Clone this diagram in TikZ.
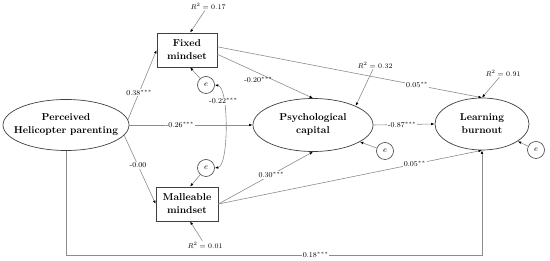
\documentclass[tikz,border=0pt]{standalone}
\usetikzlibrary{shapes.geometric, arrows.meta}
\begin{document}
\begin{tikzpicture}
[
    x=1pt, y=-1pt,
    latent/.style={draw=black!75, line width=0.7pt, ellipse, inner sep=0pt, align=center, font=\bfseries\fontsize{10}{13}\selectfont},
    observed/.style={draw=black!75, line width=0.7pt, rectangle, minimum width=60pt, minimum height=34pt, inner sep=0pt, align=center, font=\bfseries\fontsize{10}{13}\selectfont},
    resid/.style={draw=black!75, line width=0.6pt, circle, minimum size=17pt, inner sep=0pt, font=\footnotesize},
    link/.style={draw=black!45, line width=0.6pt, -{Latex[black, length=3.5pt, width=2.6pt]}},
    twoway/.style={link, {Latex[black, length=3.5pt, width=2.6pt]}-{Latex[black, length=3.5pt, width=2.6pt]}},
    coef/.style={fill=white, inner sep=1pt, font=\fontsize{7.5}{9}\selectfont},
    rsq/.style={inner sep=1pt, font=\fontsize{7.5}{9}\selectfont}
]
    \useasboundingbox (0,0) rectangle (550,261);

    % constructs
    \node [latent, minimum width=126pt, minimum height=51pt, inner xsep=-12pt] (hp) at (66,125) {Perceived\\Helicopter parenting};
    \node [observed] (fm) at (187,50) {Fixed\\mindset};
    \node [observed, minimum width=62pt] (mm) at (187,204) {Malleable\\mindset};
    \node [latent, minimum width=120pt, minimum height=53pt] (pc) at (313,125) {Psychological\\capital};
    \node [latent, minimum width=94pt, minimum height=52pt] (lb) at (482,124) {Learning\\burnout};

    % residuals
    \node [resid] (e1) at (206,85) {$e$};
    \node [resid] (e2) at (206,168) {$e$};
    \node [resid] (e3) at (385,151) {$e$};
    \node [resid] (e4) at (536,150) {$e$};

    % explained variance
    \node [rsq] (r1) at (208,6) {$R^2 = 0.17$};
    \node [rsq] (r2) at (375,65) {$R^2 = 0.32$};
    \node [rsq] (r3) at (503,73) {$R^2 = 0.91$};
    \node [rsq] (r4) at (205,245) {$R^2 = 0.01$};
    \coordinate (base) at (0,255);

    % paths
    \draw [link] (hp.5) -- node [coef, pos=0.39] {0.38$^{***}$} (fm.west);
    \draw [link] (hp.-10) -- node [coef, pos=0.44] {-0.00} (mm.west);
    \draw [link] (hp.east) -- node [coef, pos=0.41] {-0.26$^{***}$} (pc.west);
    \draw [link] (fm.-8) -- node [rsq, pos=0.43, below=3pt] {-0.20$^{***}$} (pc.north);
    \draw [link] (fm.6) -- node [coef, pos=0.755] {0.05$^{**}$} (lb.north);
    \draw [link] (mm.east) -- node [coef, pos=0.56] {0.30$^{***}$} (pc.south);
    \draw [link] (mm.east) -- node [coef, pos=0.745] {0.05$^{**}$} (lb.south);
    \draw [link] (pc.east) -- node [coef, pos=0.47] {-0.87$^{***}$} (lb.west);
    \draw [link] (hp.south) |- node [coef, pos=0.8] {0.18$^{***}$} (lb.south |- base) -- (lb.south);

    % residual and variance arrows
    \draw [link] (e1) -- (fm.-80);
    \draw [link] (e2) -- (mm.80);
    \draw [link] (e3) -- (pc);
    \draw [link] (e4) -- (lb);
    \draw [link] (r1) -- (fm.80);
    \draw [link] (r2) -- (pc.24);
    \draw [link] (r3) -- (lb.north);
    \draw [link] (r4) -- (mm.-80);

    % covariance
    \draw [twoway] (e1.east) .. controls (229,87) and (229,166) .. node [coef, pos=0.28] {-0.22$^{***}$} (e2.east);
\end{tikzpicture}
\end{document}
